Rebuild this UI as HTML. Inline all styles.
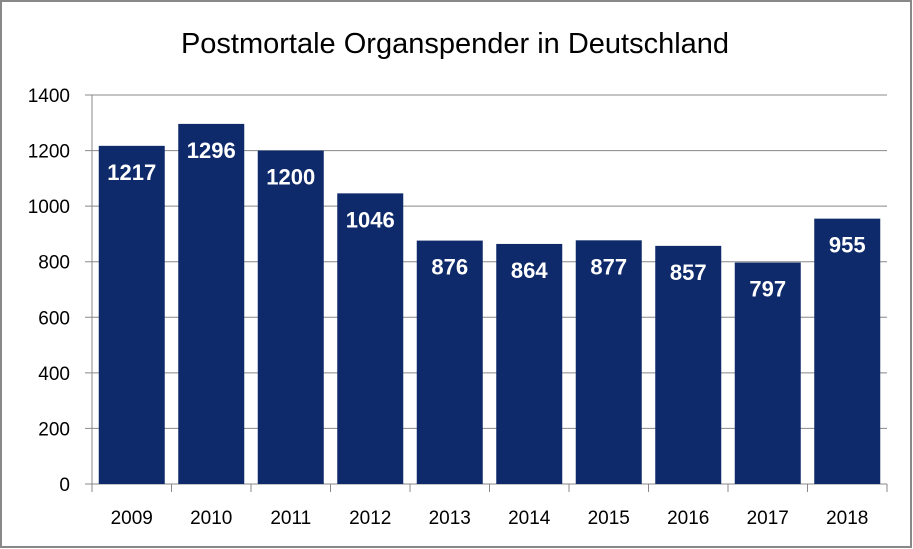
<!DOCTYPE html>
<html><head><meta charset="utf-8"><style>
html,body{margin:0;padding:0;background:#fff}
svg{display:block;font-family:"Liberation Sans",sans-serif}
</style></head><body>
<svg id="chart" width="913" height="549" viewBox="0 0 913 549">
<rect x="1" y="1" width="910" height="546" fill="#fff" stroke="#888" stroke-width="2"/>
<text x="455" y="53" text-anchor="middle" font-size="29" fill="#000">Postmortale Organspender  in Deutschland</text>
<g id="grid"></g><g id="bars"></g><g id="axes"></g>
</svg>
<script>
const categories=["2009","2010","2011","2012","2013","2014","2015","2016","2017","2018"];
const values=[1217,1296,1200,1046,876,864,877,857,797,955];
const yTicks=[0,200,400,600,800,1000,1200,1400];
const NS="http://www.w3.org/2000/svg";
const x0=92,x1=887,yBase=484,yTop=95,yMax=1400;
const band=(x1-x0)/categories.length;
function y(v){return yBase-(v/yMax)*(yBase-yTop);}
function xs(i){return x0+i*band;}
function mk(tag,attrs,parent,txt){const e=document.createElementNS(NS,tag);for(const k in attrs)e.setAttribute(k,attrs[k]);if(txt!==undefined)e.textContent=txt;parent.appendChild(e);return e;}
const grid=document.getElementById('grid'),bars=document.getElementById('bars'),axes=document.getElementById('axes');
yTicks.forEach(t=>{
  const l=mk('line',{x1:85,x2:x1,y1:y(t),y2:y(t),stroke:'#888','stroke-width':1},grid);
  
  
  const tx=mk('text',{x:70,y:y(t)+7,'text-anchor':'end','font-size':19,fill:'#000'},axes,String(t));
  
  
});
const ax=mk('line',{x1:x0,x2:x0,y1:yTop,y2:yBase,stroke:'#888','stroke-width':1},axes);


const bw=66;
categories.forEach((c,i)=>{
  const v=values[i];
  const bx=xs(i)+(band-bw)/2;
  const r=mk('rect',{x:bx,y:y(v),width:bw,height:yBase-y(v),fill:'#0e2a6b'},bars);
  
  
  const lb=mk('text',{x:bx+bw/2,y:y(v)+34,'text-anchor':'middle','font-size':22,'font-weight':'bold',fill:'#fff'},bars,String(v));
  
  
  const tk=mk('line',{x1:xs(i+1),x2:xs(i+1),y1:yBase,y2:yBase+8,stroke:'#888'},axes);
  
  
  const xl=mk('text',{x:xs(i)+band/2,y:524,'text-anchor':'middle','font-size':19,fill:'#000'},axes,c);
  
  
});
const t0=mk('line',{x1:x0,x2:x0,y1:yBase,y2:yBase+8,stroke:'#888'},axes);


</script>
</body></html>
